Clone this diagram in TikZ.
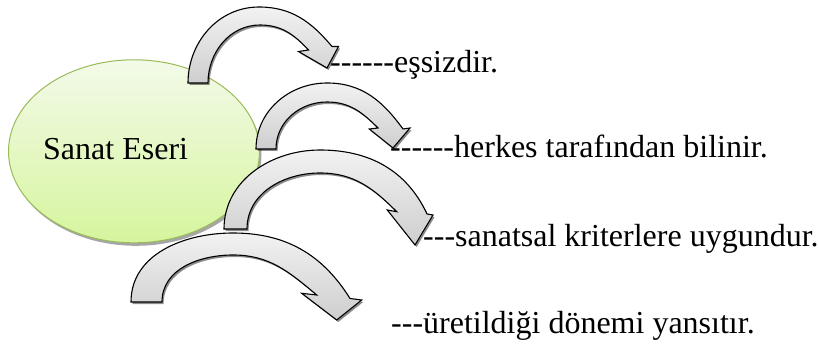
\documentclass[tikz,border=0pt]{standalone}
\usepackage{fontspec}
\setmainfont{Liberation Serif}[Ligatures=ResetAll]
\newfontfamily\tnr{Liberation Serif}[Ligatures=ResetAll]
\usetikzlibrary{shapes.geometric,shadows}
\definecolor{ellbord}{RGB}{155,187,89}
\definecolor{elltop}{RGB}{243,250,233}
\definecolor{ellbot}{RGB}{214,245,158}
\definecolor{arrtop}{RGB}{242,242,242}
\definecolor{arrbot}{RGB}{206,206,206}
\tikzset{
  carrow/.style={draw=black, line width=1.1pt, line join=miter, top color=arrtop, bottom color=arrbot,
    drop shadow={shadow xshift=1.6pt, shadow yshift=-2pt, fill=black, opacity=0.45}},
  bubble/.style={ellipse, draw=ellbord, line width=1pt, top color=elltop, bottom color=ellbot,
    minimum width=251pt, minimum height=183pt, inner sep=0pt,
    drop shadow={shadow xshift=2pt, shadow yshift=-3pt, fill=black, opacity=0.35}},
  txt/.style={anchor=base west, inner sep=0pt, font=\tnr\fontsize{32}{38}\selectfont}
}
\begin{document}
\begin{tikzpicture}[x=1pt,y=1pt]
\useasboundingbox[fill=white] (0,0) rectangle (819,343);
\node[bubble] (se) at (134,191.7) {};
\node[txt] (setext) at (43,183) {Sanat Eseri};
% arrow 4
\path[carrow] (131,41) to[out=90,in=180] (233,110) to[out=0,in=122] (350,44.5) -- (361.7,43) -- (336.7,23) -- (301.7,49.7) -- (316.7,48) to[out=140,in=0] (233,88) to[out=180,in=90] (162,41) -- cycle;
% arrow 3
\path[carrow] (224,114) to[out=90,in=180] (320,193) to[out=0,in=115] (427,129) -- (433,128) -- (415,98) -- (387.3,133) -- (396.7,131.3) to[out=135,in=0] (320,170) to[out=180,in=90] (247,114) -- cycle;
% arrow 2
\path[carrow] (256,194) to[out=90,in=180] (327,260) to[out=0,in=126] (403,214) -- (410,215) -- (393,195) -- (369.3,214) -- (378,215) to[out=135,in=0] (327,241) to[out=180,in=90] (276,194) -- cycle;
% arrow 1
\path[carrow] (188,260) to[out=90,in=180] (259,336) to[out=0,in=130] (332,296.5) -- (338.5,296.5) -- (327,275) -- (298.5,291.5) -- (308.5,293) to[out=133,in=0] (260,318) to[out=180,in=90] (208,260) -- cycle;
\node[txt] (t1) at (330,270) {{-}{-}{-}{-}{-}{-}eşsizdir.};
\node[txt] (t2) at (390,185) {{-}{-}{-}{-}{-}{-}herkes tarafından bilinir.};
\node[txt] (t3) at (423,96) {{-}{-}{-}sanatsal kriterlere uygundur.};
\node[txt] (t4) at (391,10) {{-}{-}{-}üretildiği dönemi yansıtır.};
\end{tikzpicture}
\end{document}
